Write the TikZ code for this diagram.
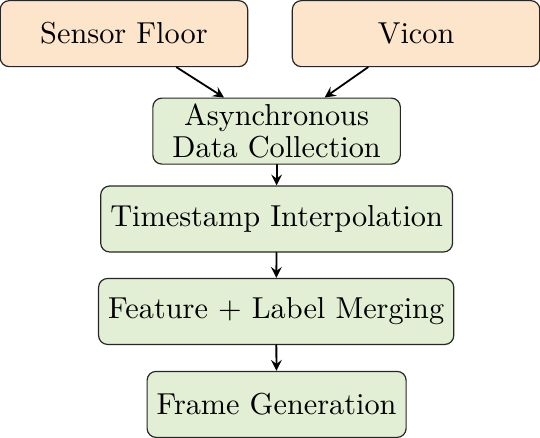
\documentclass[tikz,border=0pt]{standalone}
\usetikzlibrary{arrows}
\definecolor{srcfill}{RGB}{253,229,203}
\definecolor{stepfill}{RGB}{226,239,213}
\tikzset{
	box/.style={draw=black!85,rounded corners=3pt,minimum width=82.5pt,minimum height=22pt,inner xsep=3.2pt,inner ysep=1.5pt,align=center},
	srcbox/.style={box,fill=srcfill},
	procbox/.style={box,fill=stepfill}
}
\begin{document}
\begin{tikzpicture}[>=stealth,line join=round,line cap=round,font=\fontsize{10.1}{10.5}\selectfont,scale=1]
				\useasboundingbox (0,0) rectangle (6.327,-5.131);
				\path
				(1.452,-0.394) coordinate (S)
				(4.875,-0.394) coordinate (V)
				(3.241,-1.536) coordinate (A)
				(3.241,-2.566) coordinate (T)
				(3.236,-3.649) coordinate (M)
				(3.241,-4.738) coordinate (G)
				;
				\node[srcbox] (sensor) at (S) {Sensor Floor};
				\node[srcbox] (vicon) at (V) {Vicon};
				\node[procbox] (async) at (A) {Asynchronous\\Data Collection};
				\node[procbox] (interp) at (T) {Timestamp Interpolation};
				\node[procbox] (merge) at (M) {Feature + Label Merging};
				\node[procbox] (frame) at (G) {Frame Generation};
				\foreach \x/\y in {sensor/async,vicon/async,async/interp,interp/merge,merge/frame}\draw[->,semithick](\x)--(\y);
			\end{tikzpicture}
\end{document}
